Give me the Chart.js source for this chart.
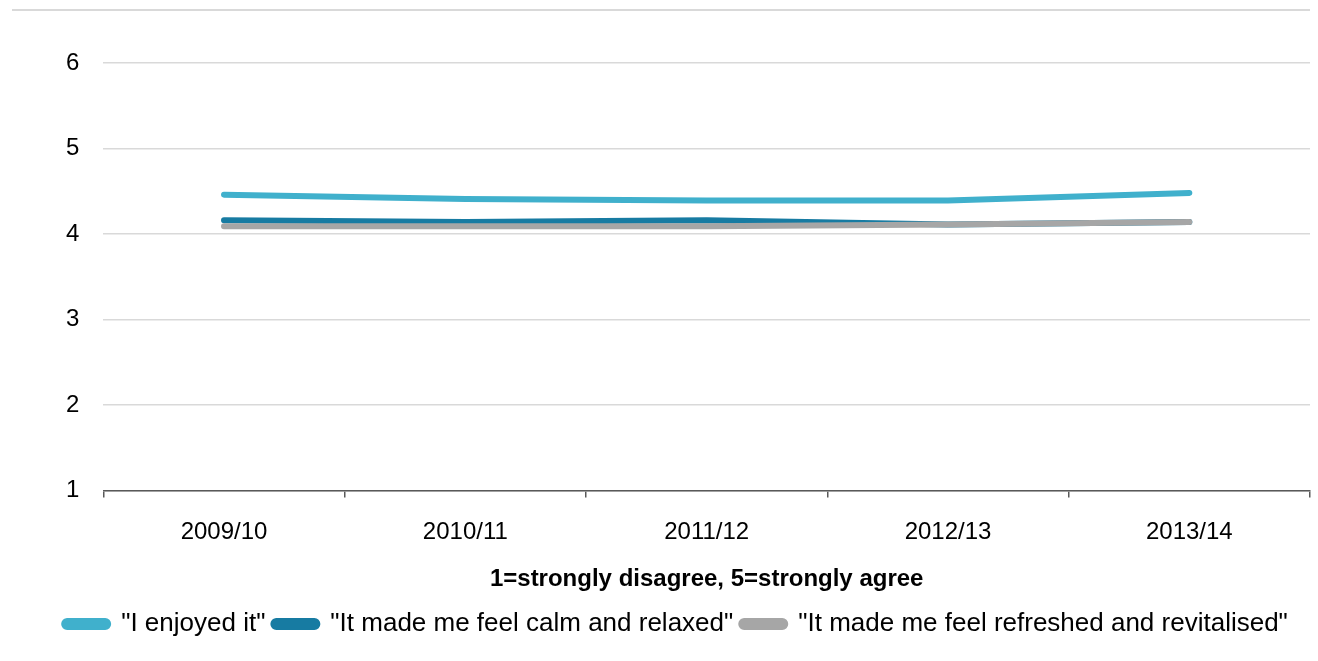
<!DOCTYPE html>
<html>
<head>
<meta charset="utf-8">
<script src="https://cdn.jsdelivr.net/npm/chart.js@4"></script>
<style>
  html, body { margin: 0; padding: 0; background: #fff; }
  #wrap { width: 1318px; height: 661px; position: relative; }
</style>
</head>
<body>
<div id="wrap"><canvas id="surveyChart"></canvas></div>
<script>
const years = ["2009/10", "2010/11", "2011/12", "2012/13", "2013/14"];
const enjoyed = [4.46, 4.41, 4.39, 4.39, 4.48];
const calmRelaxed = [4.16, 4.14, 4.16, 4.11, 4.14];
const refreshed = [4.09, 4.09, 4.09, 4.11, 4.14];
const seriesNames = [
  '"I enjoyed it"',
  '"It made me feel calm and relaxed"',
  '"It made me feel refreshed and revitalised"'
];
const axisTitle = "1=strongly disagree, 5=strongly agree";

Chart.defaults.font.family = "'Liberation Sans', Arial, sans-serif";
Chart.defaults.color = "#000";

// thin rule across the top of the figure
const topRule = {
  id: "topRule",
  beforeDraw(chart) {
    const ctx = chart.ctx;
    ctx.save();
    ctx.strokeStyle = "#d9d9d9";
    ctx.lineWidth = 2;
    ctx.beginPath();
    ctx.moveTo(12, 10);
    ctx.lineTo(1310, 10);
    ctx.stroke();
    ctx.restore();
  }
};

function lineSet(label, data, color, order) {
  return {
    label,
    data,
    borderColor: color,
    backgroundColor: color,
    borderWidth: 6,
    borderCapStyle: "round",
    borderJoinStyle: "round",
    pointRadius: 0,
    tension: 0,
    order
  };
}

new Chart(document.getElementById("surveyChart"), {
  type: "line",
  data: {
    labels: years,
    datasets: [
      lineSet(seriesNames[0], enjoyed, "#40b0cc", 2),
      lineSet(seriesNames[1], calmRelaxed, "#177ba2", 1),
      lineSet(seriesNames[2], refreshed, "#a6a6a6", 0)
    ]
  },
  options: {
    responsive: true,
    maintainAspectRatio: false,
    animation: false,
    layout: { padding: { top: 63, left: 42, right: 8, bottom: 14 } },
    plugins: {
      tooltip: { enabled: false },
      legend: {
        position: "bottom",
        labels: {
          sort: (a, b) => a.datasetIndex - b.datasetIndex,
          boxWidth: 44,
          boxHeight: 6,
          useBorderRadius: true,
          borderRadius: 3,
          padding: 8,
          font: { size: 26 },
          color: "#000"
        }
      }
    },
    scales: {
      x: {
        offset: true,
        grid: {
          offset: true,
          drawOnChartArea: false,
          drawTicks: true,
          tickLength: 7,
          color: "#595959",
          lineWidth: 1.5
        },
        border: { display: true, color: "#595959", width: 1.5 },
        ticks: { font: { size: 24 }, padding: 21, color: "#000" },
        title: {
          display: true,
          text: axisTitle,
          font: { size: 24, weight: "bold" },
          color: "#000",
          padding: { top: -3, bottom: 9 }
        }
      },
      y: {
        min: 1,
        max: 6,
        ticks: { stepSize: 1, font: { size: 24 }, padding: 24, color: "#000" },
        grid: { color: "#d9d9d9", lineWidth: 1.5, drawTicks: false },
        border: { display: false }
      }
    }
  },
  plugins: [topRule]
});
</script>
</body>
</html>
